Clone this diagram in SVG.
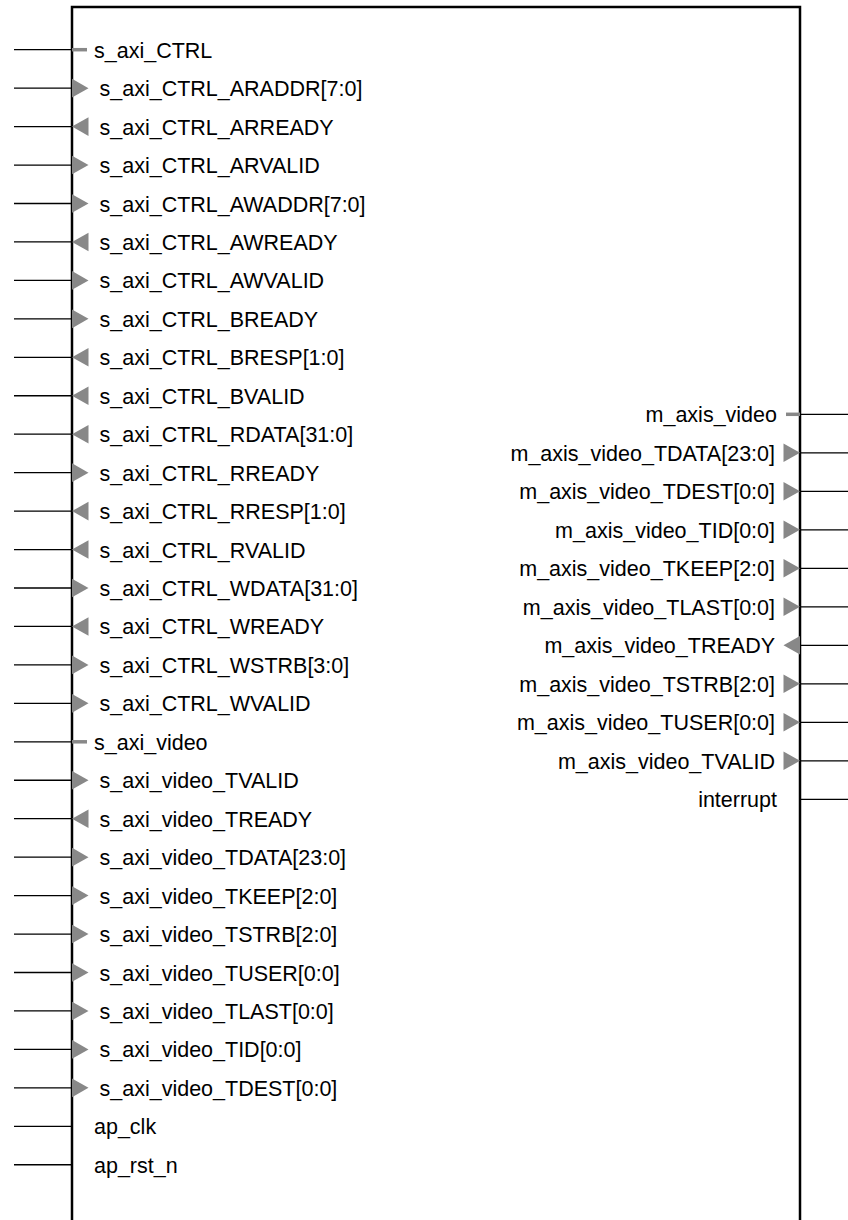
<svg xmlns="http://www.w3.org/2000/svg" xmlns:xlink="http://www.w3.org/1999/xlink" width="848" height="1220" viewBox="0 0 848 1220">
<style>
.box{fill:#fff;stroke:#000;stroke-width:2.5}
.wire{stroke:#000;stroke-width:1.3;fill:none}
.bus{stroke:#888;stroke-width:3.5}
.tri{fill:#888}
.lbl{font-family:"Liberation Sans",Arial,sans-serif;font-size:21.5px;fill:#000}
.r{text-anchor:end}
</style>
<defs>
<path id="triR" d="M0,-9.3 L16.5,0 L0,9.3 Z"/>
<path id="triL" d="M0,0 L16.5,-9.3 L16.5,9.3 Z"/>
</defs>
<rect width="848" height="1220" fill="#fff"/>
<g id="block">
<rect class="box" x="72" y="7" width="728" height="1300"/>
</g>
<g id="connectors">
<path class="wire" d="M14,49.7H72M14,88.15H72M14,126.6H72M14,165.05H72M14,203.5H72M14,241.95H72M14,280.4H72M14,318.85H72M14,357.3H72M14,395.75H72M14,434.2H72M14,472.65H72M14,511.1H72M14,549.55H72M14,588H72M14,626.45H72M14,664.9H72M14,703.35H72M14,741.8H72M14,780.25H72M14,818.7H72M14,857.15H72M14,895.6H72M14,934.05H72M14,972.5H72M14,1010.95H72M14,1049.4H72M14,1087.85H72M14,1126.3H72M14,1164.75H72"/>
<path class="wire" d="M800,414.3H848M800,452.8H848M800,491.3H848M800,529.8H848M800,568.3H848M800,606.8H848M800,645.3H848M800,683.8H848M800,722.3H848M800,760.8H848M800,799.3H848"/>
</g>
<g id="left-pins" class="lbl">
<g id="p_s_axi_CTRL"><line class="bus" x1="72" y1="49.7" x2="87" y2="49.7"/><text x="94" y="57.7">s_axi_CTRL</text></g>
<g id="p_ARADDR"><use href="#triR" class="tri" x="72" y="88.15"/><text x="99.5" y="96.15">s_axi_CTRL_ARADDR[7:0]</text></g>
<g id="p_ARREADY"><use href="#triL" class="tri" x="72" y="126.6"/><text x="99.5" y="134.6">s_axi_CTRL_ARREADY</text></g>
<g id="p_ARVALID"><use href="#triR" class="tri" x="72" y="165.05"/><text x="99.5" y="173.05">s_axi_CTRL_ARVALID</text></g>
<g id="p_AWADDR"><use href="#triR" class="tri" x="72" y="203.5"/><text x="99.5" y="211.5">s_axi_CTRL_AWADDR[7:0]</text></g>
<g id="p_AWREADY"><use href="#triL" class="tri" x="72" y="241.95"/><text x="99.5" y="249.95">s_axi_CTRL_AWREADY</text></g>
<g id="p_AWVALID"><use href="#triR" class="tri" x="72" y="280.4"/><text x="99.5" y="288.4">s_axi_CTRL_AWVALID</text></g>
<g id="p_BREADY"><use href="#triR" class="tri" x="72" y="318.85"/><text x="99.5" y="326.85">s_axi_CTRL_BREADY</text></g>
<g id="p_BRESP"><use href="#triL" class="tri" x="72" y="357.3"/><text x="99.5" y="365.3">s_axi_CTRL_BRESP[1:0]</text></g>
<g id="p_BVALID"><use href="#triL" class="tri" x="72" y="395.75"/><text x="99.5" y="403.75">s_axi_CTRL_BVALID</text></g>
<g id="p_RDATA"><use href="#triL" class="tri" x="72" y="434.2"/><text x="99.5" y="442.2">s_axi_CTRL_RDATA[31:0]</text></g>
<g id="p_RREADY"><use href="#triR" class="tri" x="72" y="472.65"/><text x="99.5" y="480.65">s_axi_CTRL_RREADY</text></g>
<g id="p_RRESP"><use href="#triL" class="tri" x="72" y="511.1"/><text x="99.5" y="519.1">s_axi_CTRL_RRESP[1:0]</text></g>
<g id="p_RVALID"><use href="#triL" class="tri" x="72" y="549.55"/><text x="99.5" y="557.55">s_axi_CTRL_RVALID</text></g>
<g id="p_WDATA"><use href="#triR" class="tri" x="72" y="588"/><text x="99.5" y="596">s_axi_CTRL_WDATA[31:0]</text></g>
<g id="p_WREADY"><use href="#triL" class="tri" x="72" y="626.45"/><text x="99.5" y="634.45">s_axi_CTRL_WREADY</text></g>
<g id="p_WSTRB"><use href="#triR" class="tri" x="72" y="664.9"/><text x="99.5" y="672.9">s_axi_CTRL_WSTRB[3:0]</text></g>
<g id="p_WVALID"><use href="#triR" class="tri" x="72" y="703.35"/><text x="99.5" y="711.35">s_axi_CTRL_WVALID</text></g>
<g id="p_s_axi_video"><line class="bus" x1="72" y1="741.8" x2="87" y2="741.8"/><text x="94" y="749.8">s_axi_video</text></g>
<g id="p_s_TVALID"><use href="#triR" class="tri" x="72" y="780.25"/><text x="99.5" y="788.25">s_axi_video_TVALID</text></g>
<g id="p_s_TREADY"><use href="#triL" class="tri" x="72" y="818.7"/><text x="99.5" y="826.7">s_axi_video_TREADY</text></g>
<g id="p_s_TDATA"><use href="#triR" class="tri" x="72" y="857.15"/><text x="99.5" y="865.15">s_axi_video_TDATA[23:0]</text></g>
<g id="p_s_TKEEP"><use href="#triR" class="tri" x="72" y="895.6"/><text x="99.5" y="903.6">s_axi_video_TKEEP[2:0]</text></g>
<g id="p_s_TSTRB"><use href="#triR" class="tri" x="72" y="934.05"/><text x="99.5" y="942.05">s_axi_video_TSTRB[2:0]</text></g>
<g id="p_s_TUSER"><use href="#triR" class="tri" x="72" y="972.5"/><text x="99.5" y="980.5">s_axi_video_TUSER[0:0]</text></g>
<g id="p_s_TLAST"><use href="#triR" class="tri" x="72" y="1010.95"/><text x="99.5" y="1018.95">s_axi_video_TLAST[0:0]</text></g>
<g id="p_s_TID"><use href="#triR" class="tri" x="72" y="1049.4"/><text x="99.5" y="1057.4">s_axi_video_TID[0:0]</text></g>
<g id="p_s_TDEST"><use href="#triR" class="tri" x="72" y="1087.85"/><text x="99.5" y="1095.85">s_axi_video_TDEST[0:0]</text></g>
<g id="p_ap_clk"><text x="94" y="1134.3">ap_clk</text></g>
<g id="p_ap_rst_n"><text x="94" y="1172.75">ap_rst_n</text></g>
</g>
<g id="right-pins" class="lbl">
<g id="p_m_axis_video"><line class="bus" x1="786" y1="414.3" x2="800" y2="414.3"/><text class="r" x="777" y="422.3">m_axis_video</text></g>
<g id="p_m_TDATA"><use href="#triR" class="tri" x="783.5" y="452.8"/><text class="r" x="775" y="460.8">m_axis_video_TDATA[23:0]</text></g>
<g id="p_m_TDEST"><use href="#triR" class="tri" x="783.5" y="491.3"/><text class="r" x="775" y="499.3">m_axis_video_TDEST[0:0]</text></g>
<g id="p_m_TID"><use href="#triR" class="tri" x="783.5" y="529.8"/><text class="r" x="775" y="537.8">m_axis_video_TID[0:0]</text></g>
<g id="p_m_TKEEP"><use href="#triR" class="tri" x="783.5" y="568.3"/><text class="r" x="775" y="576.3">m_axis_video_TKEEP[2:0]</text></g>
<g id="p_m_TLAST"><use href="#triR" class="tri" x="783.5" y="606.8"/><text class="r" x="775" y="614.8">m_axis_video_TLAST[0:0]</text></g>
<g id="p_m_TREADY"><use href="#triL" class="tri" x="783.5" y="645.3"/><text class="r" x="775" y="653.3">m_axis_video_TREADY</text></g>
<g id="p_m_TSTRB"><use href="#triR" class="tri" x="783.5" y="683.8"/><text class="r" x="775" y="691.8">m_axis_video_TSTRB[2:0]</text></g>
<g id="p_m_TUSER"><use href="#triR" class="tri" x="783.5" y="722.3"/><text class="r" x="775" y="730.3">m_axis_video_TUSER[0:0]</text></g>
<g id="p_m_TVALID"><use href="#triR" class="tri" x="783.5" y="760.8"/><text class="r" x="775" y="768.8">m_axis_video_TVALID</text></g>
<g id="p_interrupt"><text class="r" x="777" y="807.3">interrupt</text></g>
</g>
</svg>
